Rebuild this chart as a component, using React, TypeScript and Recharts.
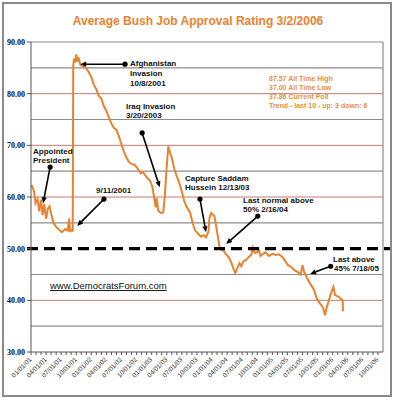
import { LineChart, Line, XAxis, YAxis, ReferenceLine } from 'recharts';

const pollDates = [
  '2001-01-05', '2001-01-20', '2001-01-28', '2001-02-10', '2001-02-20', '2001-03-01', '2001-03-10',
  '2001-03-20', '2001-04-01', '2001-04-12', '2001-04-22', '2001-05-01', '2001-05-15', '2001-06-01',
  '2001-06-20', '2001-07-05', '2001-07-25', '2001-08-10', '2001-08-18', '2001-08-24', '2001-09-05',
  '2001-09-10', '2001-09-13', '2001-09-18', '2001-09-24', '2001-10-01', '2001-10-08', '2001-10-15',
  '2001-10-25', '2001-11-10', '2001-11-28', '2001-12-15', '2002-01-01', '2002-01-15', '2002-02-01',
  '2002-02-15', '2002-03-01', '2002-03-15', '2002-04-01', '2002-04-15', '2002-05-01', '2002-05-15',
  '2002-06-01', '2002-06-15', '2002-07-01', '2002-07-15', '2002-08-01', '2002-08-15', '2002-09-01',
  '2002-09-20', '2002-10-05', '2002-10-25', '2002-11-10', '2002-12-01', '2002-12-20', '2003-01-05',
  '2003-01-15', '2003-01-25', '2003-02-01', '2003-02-10', '2003-02-25', '2003-03-10', '2003-03-20',
  '2003-04-01', '2003-04-10', '2003-04-20', '2003-05-01', '2003-05-15', '2003-06-01', '2003-06-15',
  '2003-07-01', '2003-07-15', '2003-08-01', '2003-08-20', '2003-09-05', '2003-09-20', '2003-10-05',
  '2003-10-25', '2003-11-10', '2003-11-25', '2003-12-10', '2003-12-16', '2003-12-25', '2004-01-05',
  '2004-01-15', '2004-01-25', '2004-02-05', '2004-02-16', '2004-02-25', '2004-03-10', '2004-03-25',
  '2004-04-10', '2004-04-25', '2004-05-10', '2004-05-20', '2004-06-01', '2004-06-15', '2004-06-25',
  '2004-07-10', '2004-07-25', '2004-08-10', '2004-08-25', '2004-09-05', '2004-09-15', '2004-09-30',
  '2004-10-10', '2004-10-20', '2004-11-05', '2004-11-20', '2004-12-10', '2005-01-01', '2005-01-20',
  '2005-02-10', '2005-03-01', '2005-03-20', '2005-04-05', '2005-04-25', '2005-05-15', '2005-06-05',
  '2005-06-20', '2005-07-01', '2005-07-10', '2005-07-18', '2005-07-28', '2005-08-10', '2005-08-25',
  '2005-09-10', '2005-09-25', '2005-10-10', '2005-10-25', '2005-11-05', '2005-11-15', '2005-11-25',
  '2005-12-05', '2005-12-15', '2005-12-28', '2006-01-05', '2006-01-15', '2006-01-28', '2006-02-10',
  '2006-02-22', '2006-03-01', '2006-03-02',
];

const approval = [
  62.3, 61.0, 58.8, 59.6, 57.2, 59.5, 56.5,
  58.6, 55.8, 57.8, 58.2, 56.8, 55.0, 54.2,
  53.6, 53.2, 53.8, 53.5, 55.8, 53.4, 53.6,
  53.3, 85.5, 86.8, 86.0, 87.6, 86.2, 87.0,
  85.6, 85.3, 85.0, 84.2, 83.2, 81.8, 80.8,
  79.6, 79.0, 77.6, 76.6, 75.4, 74.2, 73.4,
  73.0, 71.8, 70.2, 68.8, 67.6, 66.8, 66.4,
  66.2, 65.6, 64.6, 64.8, 63.8, 63.2, 62.0,
  60.0, 58.0, 59.8, 57.4, 56.9, 57.0, 60.5,
  66.0, 69.8, 68.6, 67.6, 65.5, 64.0, 62.8,
  61.0, 59.2, 58.0, 57.0, 55.0, 53.5, 53.0,
  52.3, 52.6, 52.2, 53.3, 56.0, 56.9, 56.6,
  56.3, 54.5, 52.5, 50.3, 49.8, 49.6, 48.9,
  48.4, 47.4, 46.0, 45.3, 46.2, 47.2, 46.6,
  47.6, 47.8, 48.4, 48.8, 50.2, 49.2, 49.3,
  49.8, 48.6, 49.0, 49.3, 48.6, 49.0, 48.8,
  48.9, 48.4, 47.5, 46.8, 46.4, 45.8, 45.4,
  45.0, 46.8, 45.5, 45.1, 44.3, 43.6, 42.8,
  42.0, 40.4, 39.6, 39.0, 38.4, 37.1, 38.6,
  39.6, 40.8, 42.0, 42.6, 41.0, 40.8, 40.6,
  40.2, 40.0, 37.9,
];

const quarterLabels = [
  '01/01/01', '04/01/01', '07/01/01', '10/01/01',
  '01/01/02', '04/01/02', '07/01/02', '10/01/02',
  '01/01/03', '04/01/03', '07/01/03', '10/01/03',
  '01/01/04', '04/01/04', '07/01/04', '10/01/04',
  '01/01/05', '04/01/05', '07/01/05', '10/01/05',
  '01/01/06', '04/01/06', '07/01/06', '10/01/06',
];

const yTicks = [30, 40, 50, 60, 70, 80, 90];
const grayLines = [35, 45, 55, 65, 75, 85, 90];
const redLines = [40, 60, 70, 80];

const statsLines = [
  '87.57 All Time High',
  '37.00 All Time Low',
  '37.86 Current Poll',
  'Trend - last 10 - up: 3 down: 6',
];

// arrows: [from month, from value, to month, to value]
const arrows = [
  [18.7, 85.7, 9.8, 85.7],
  [22.1, 72.4, 25.6, 61.9],
  [3.8, 65.8, 2.4, 58.8],
  [14.5, 59.6, 9.2, 54.4],
  [33.6, 59.6, 34.8, 53.2],
  [45.1, 56.3, 38.8, 50.9],
  [59.6, 46.6, 55.5, 45.1],
];

const toMonth = (d: string) => {
  const [y, m, day] = d.split('-').map(Number);
  return (y - 2001) * 12 + (m - 1) + (day - 1) / 30;
};

const data = pollDates.map((d, i) => ({ m: toMonth(d), v: approval[i] }));
const monthTicks = Array.from({ length: 70 }, (_, i) => i);

const ORANGE = '#E8822E';

const XTick = (props: any) => {
  const { x, y, payload } = props;
  const m = payload.value;
  if (m % 3 !== 0) return null;
  return (
    <text
      x={x + 1}
      y={y + 3}
      textAnchor="end"
      fontSize={6.5}
      fontFamily="Liberation Sans, Arial"
      fill="#333"
      transform={`rotate(-45, ${x + 1}, ${y + 3})`}
    >
      {quarterLabels[m / 3]}
    </text>
  );
};

const Arrow = (props: any) => {
  const { x1, y1, x2, y2 } = props;
  const ang = Math.atan2(y2 - y1, x2 - x1);
  const len = 6;
  const w = 2.6;
  const bx = x2 - len * Math.cos(ang);
  const by = y2 - len * Math.sin(ang);
  const px = -Math.sin(ang) * w;
  const py = Math.cos(ang) * w;
  return (
    <g>
      <line x1={x1} y1={y1} x2={bx} y2={by} stroke="#000" strokeWidth={1.6} />
      <polygon points={`${x2},${y2} ${bx + px},${by + py} ${bx - px},${by - py}`} fill="#000" />
      <circle cx={x1} cy={y1} r={2.6} fill="#000" />
    </g>
  );
};

const note = { fontSize: 8, fontWeight: 700, fontFamily: 'Liberation Sans, Arial', fill: '#111' };

export default function App() {
  return (
    <div style={{ position: 'absolute', left: 0, top: 0, width: 396, height: 400, background: '#fff' }}>
      <LineChart width={396} height={400} data={data} margin={{ top: 42, right: 13, bottom: 0, left: 0 }}>
        <XAxis
          dataKey="m"
          type="number"
          domain={[0, 70]}
          ticks={monthTicks}
          interval={0}
          height={48}
          tick={<XTick />}
          tickSize={3}
          tickMargin={2}
          axisLine={{ stroke: '#555' }}
          tickLine={{ stroke: '#555' }}
        />
        <YAxis
          domain={[30, 90]}
          ticks={yTicks}
          width={31}
          tickSize={4}
          tickMargin={2}
          tickFormatter={(v: number) => v.toFixed(2)}
          tick={{ fontSize: 8, fontWeight: 700, fontFamily: 'Liberation Serif, Times New Roman', fill: '#111' }}
          axisLine={{ stroke: '#555' }}
          tickLine={{ stroke: '#555' }}
        />
        {grayLines.map((g) => (
          <ReferenceLine key={`g${g}`} y={g} stroke="#8c8c8c" strokeWidth={1.2} />
        ))}
        {redLines.map((r) => (
          <ReferenceLine key={`r${r}`} y={r} stroke="#c47a70" strokeWidth={1} />
        ))}
        <ReferenceLine x={70} stroke="#8c8c8c" strokeWidth={1.2} />
        <Line
          type="linear"
          dataKey="v"
          stroke={ORANGE}
          strokeWidth={2}
          dot={false}
          isAnimationActive={false}
        />
        <ReferenceLine
          segment={[{ x: -0.8, y: 50 }, { x: 71.4, y: 50 }]}
          ifOverflow="visible"
          stroke="#000"
          strokeWidth={3.2}
          strokeDasharray="11 6"
        />
        {arrows.map((a, i) => (
          <ReferenceLine
            key={`a${i}`}
            segment={[{ x: a[0], y: a[1] }, { x: a[2], y: a[3] }]}
            ifOverflow="visible"
            shape={(p: any) => <Arrow {...p} />}
          />
        ))}
      </LineChart>
      <svg width={396} height={400} style={{ position: 'absolute', left: 0, top: 0, pointerEvents: 'none' }}>
        <rect x={3} y={3} width={388} height={393} fill="none" stroke="#8a8a8a" strokeWidth={2} />
        <text x={198} y={25} textAnchor="middle" fontSize={12} fontWeight={700} fontFamily="Liberation Sans, Arial" fill={ORANGE}>
          Average Bush Job Approval Rating 3/2/2006
        </text>
        <text {...note} x={130} y={66}>Afghanistan</text>
        <text {...note} x={130} y={76}>Invasion</text>
        <text {...note} x={130} y={86}>10/8/2001</text>
        <text {...note} x={126} y={109}>Iraq Invasion</text>
        <text {...note} x={126} y={118}>3/20/2003</text>
        <text {...note} x={33} y={154}>Appointed</text>
        <text {...note} x={33} y={163}>President</text>
        <text {...note} x={96} y={193}>9/11/2001</text>
        <text {...note} x={185} y={181}>Capture Saddam</text>
        <text {...note} x={185} y={190}>Hussein 12/13/03</text>
        <text {...note} x={243} y={203}>Last normal above</text>
        <text {...note} x={243} y={212}>50% 2/16/04</text>
        <text {...note} x={333} y={262}>Last above</text>
        <text {...note} x={334} y={271}>45% 7/18/05</text>
        <text x={50} y={289} fontSize={9.5} fontFamily="Liberation Sans, Arial" fill="#111" textDecoration="underline">
          www.DemocratsForum.com
        </text>
        {statsLines.map((s, i) => (
          <text key={s} x={269} y={81 + i * 9} fontSize={7} fontWeight={700} fontFamily="Liberation Sans, Arial" fill="#E39040">
            {s}
          </text>
        ))}
      </svg>
    </div>
  );
}
